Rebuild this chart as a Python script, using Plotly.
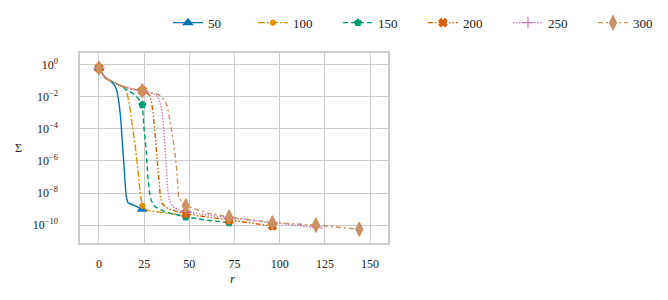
import plotly.graph_objects as go

# ---- data ----
series_names = ["50", "100", "150", "200", "250", "300"]

r_50 = [0, 1, 2, 3, 4, 6, 8, 9, 10, 11, 12, 13, 14, 15, 16, 24]
s_50 = [0.63, 0.40, 0.25, 0.178, 0.141, 0.105, 0.065, 0.045, 0.022, 5e-3, 5e-4,
        1.5e-5, 2e-7, 6.3e-9, 2.5e-9, 1.0e-9]

r_100 = [0, 1, 2, 3, 4, 6, 8, 10, 12, 14, 15, 16, 17, 18, 19, 20, 21, 22, 23, 24,
         26, 30, 40, 48]
s_100 = [0.63, 0.40, 0.25, 0.178, 0.141, 0.105, 0.079, 0.063, 0.050, 0.038, 0.025,
         0.010, 2.5e-3, 5e-4, 6.3e-5, 1e-5, 1e-6, 7.9e-8, 6.3e-9, 1.6e-9,
         8.9e-10, 7.1e-10, 5e-10, 4e-10]

r_150 = [0, 1, 2, 3, 4, 6, 8, 10, 12, 15, 18, 20, 22, 24, 25, 26, 27, 28, 29, 31,
         37, 48, 60, 72]
s_150 = [0.63, 0.40, 0.25, 0.178, 0.141, 0.105, 0.079, 0.063, 0.050, 0.0316, 0.020,
         0.0132, 7.1e-3, 3.2e-3, 7.9e-5, 6.3e-6, 1.26e-7, 1e-8, 3.2e-9, 1.4e-9,
         6.3e-10, 3.2e-10, 2e-10, 1.4e-10]

r_200 = [0, 1, 2, 3, 4, 6, 8, 10, 12, 15, 18, 21, 24, 26, 28, 29, 30, 31, 32, 33,
         34, 35, 37, 40, 48, 60, 72, 84, 96]
s_200 = [0.63, 0.40, 0.25, 0.178, 0.141, 0.105, 0.079, 0.063, 0.050, 0.038, 0.0316,
         0.0275, 0.024, 0.019, 0.0126, 5e-3, 1e-3, 5e-5, 2.5e-6, 4e-8, 5e-9,
         2.2e-9, 1.26e-9, 8.9e-10, 5e-10, 3.2e-10, 2e-10, 1.26e-10, 8.7e-11]

r_250 = [0, 1, 2, 3, 4, 6, 8, 10, 12, 15, 18, 21, 24, 27, 30, 32, 33, 34, 35, 36,
         37, 38, 39, 41, 44, 48, 56, 72, 96, 110, 120, 124]
s_250 = [0.63, 0.40, 0.25, 0.178, 0.141, 0.105, 0.079, 0.063, 0.050, 0.038, 0.0316,
         0.0275, 0.024, 0.020, 0.0158, 0.012, 7.9e-3, 4e-3, 1e-3, 6.3e-5, 1e-6,
         1.6e-8, 3.2e-9, 1.4e-9, 8.9e-10, 7.1e-10, 5e-10, 2.8e-10, 1.4e-10,
         1e-10, 7.6e-11, 6.3e-11]

r_300 = [0, 1, 2, 3, 4, 6, 8, 10, 12, 15, 18, 21, 24, 27, 30, 33, 35, 36, 37, 38,
         39, 40, 41, 42, 43, 44, 46, 48, 60, 72, 96, 120, 144]
s_300 = [0.63, 0.40, 0.25, 0.178, 0.141, 0.105, 0.079, 0.063, 0.050, 0.038, 0.0316,
         0.0275, 0.024, 0.020, 0.0166, 0.0141, 8.9e-3, 7.1e-3, 4.5e-3, 2e-3, 5e-4,
         1.26e-4, 2.2e-5, 3.2e-6, 3.2e-7, 6.3e-9, 2.5e-9, 1.6e-9, 5.6e-10,
         3.2e-10, 1.4e-10, 1e-10, 5.4e-11]

x_ticks = [0, 25, 50, 75, 100, 125, 150]
y_ticks = [1e-10, 1e-8, 1e-6, 1e-4, 1e-2, 1e0]
y_tick_text = ["10<sup>−10</sup>", "10<sup>−8</sup>", "10<sup>−6</sup>",
               "10<sup>−4</sup>", "10<sup>−2</sup>", "10<sup>0</sup>"]

# ---- styles ----
MARK_EVERY = 24
FONT = "Liberation Serif"
styles = [
    dict(color="#0173b2", dash="solid", symbol="triangle-up", size=8),
    dict(color="#de8f05", dash="7px,2px,2px,2px", symbol="circle", size=5),
    dict(color="#029e73", dash="5px,3px", symbol="pentagon", size=7),
    dict(color="#d55e00", dash="5px,2px,1.5px,2px,1.5px,2px", symbol="x", size=7),
    dict(color="#cc78bc", dash="1.5px,1.5px", symbol="cross-thin", size=8),
    dict(color="#ca9161", dash="5px,3px,2px,3px", symbol="diamond-tall", size=10),
]
all_r = [r_50, r_100, r_150, r_200, r_250, r_300]
all_s = [s_50, s_100, s_150, s_200, s_250, s_300]

fig = go.Figure()
for name, rr, ss, st in zip(series_names, all_r, all_s, styles):
    line = dict(color=st["color"], width=1.4, dash=st["dash"])
    mk = dict(symbol=st["symbol"], size=st["size"], color=st["color"],
              line=dict(color=st["color"], width=1.2))
    fig.add_trace(go.Scatter(x=rr, y=ss, mode="lines", line=line,
                             legendgroup=name, showlegend=False, hoverinfo="skip"))
    mx = [x for x in rr if x % MARK_EVERY == 0]
    my = [y for x, y in zip(rr, ss) if x % MARK_EVERY == 0]
    fig.add_trace(go.Scatter(x=mx, y=my, mode="markers", marker=mk,
                             legendgroup=name, showlegend=False))
    fig.add_trace(go.Scatter(x=[None], y=[None], mode="lines+markers", name=name,
                             line=line, marker=mk, legendgroup=name))

grid = "#cccccc"
fig.update_layout(
    width=668, height=300,
    margin=dict(l=80, r=280, t=53, b=57, autoexpand=False),
    plot_bgcolor="white", paper_bgcolor="white",
    font=dict(family=FONT, size=12, color="#222222"),
    legend=dict(orientation="h", xref="paper", yref="paper",
                x=(678 - 80) / 308, y=1 + (53 - 22.7) / 190,
                xanchor="right", yanchor="middle",
                entrywidth=40, itemwidth=30, font=dict(size=13),
                bgcolor="rgba(0,0,0,0)"),
    xaxis=dict(range=[-10.5, 159.9], tickvals=x_ticks, showgrid=True,
               gridcolor=grid, gridwidth=1.3, zeroline=False, showline=True,
               mirror=True, linecolor=grid, linewidth=1.5, ticks="outside",
               ticklen=9, tickcolor="rgba(0,0,0,0)", tickfont=dict(size=12)),
    yaxis=dict(type="log", range=[-11.12, 0.74], tickvals=y_ticks,
               ticktext=y_tick_text, showgrid=True, gridcolor=grid,
               gridwidth=1.3, zeroline=False, showline=True, mirror=True,
               linecolor=grid, linewidth=1.5, ticks="outside", ticklen=18,
               tickcolor="rgba(0,0,0,0)", tickfont=dict(size=12)),
    annotations=[
        dict(text="Σ", xref="paper", yref="paper", x=-0.2, y=0.5,
             xanchor="center", yanchor="middle", showarrow=False,
             font=dict(size=12)),
        dict(text="<i>r</i>", xref="paper", yref="paper", x=0.497, y=-0.185,
             xanchor="center", yanchor="middle", showarrow=False,
             font=dict(size=13)),
    ],
)
fig.write_html("out.html", config={"displayModeBar": False},
               post_script="document.body.style.margin='0';"
                           "document.body.style.padding='0';")
